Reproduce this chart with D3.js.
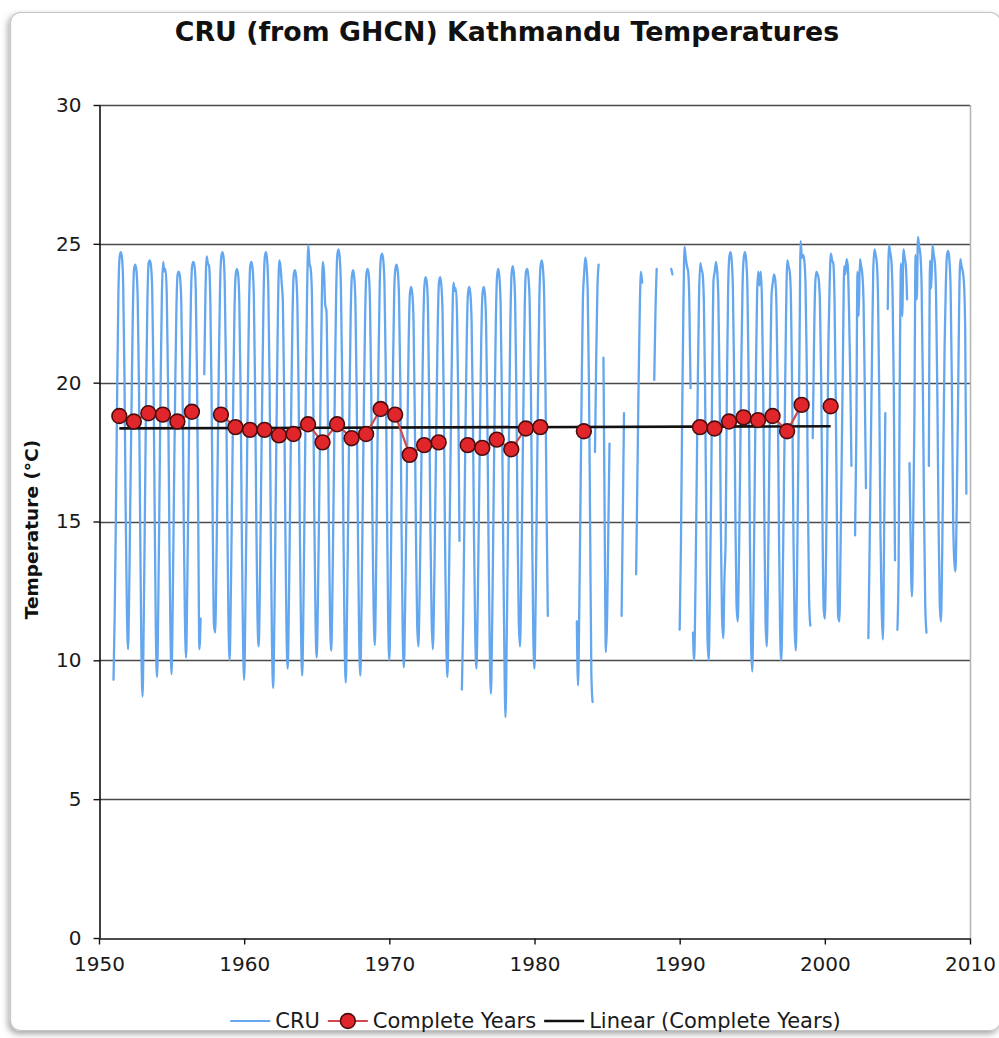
<!DOCTYPE html>
<html>
<head>
<meta charset="utf-8">
<script src="https://cdn.jsdelivr.net/npm/d3@7"></script>
<style>
  html, body { margin: 0; padding: 0; background: #ffffff; }
  svg { display: block; }
</style>
</head>
<body>
<svg id="chart" width="999" height="1038"></svg>
<script>
// ---- Data -------------------------------------------------------------
// CRU monthly mean temperature (°C), one row per year, Jan..Dec; null = missing month
const cruFirstYear = 1951;
const cruMonthly = [
  [9.3, 11.7, 15.3, 19.6, 23.1, 24.5, 24.7, 24.5, 23.5, 20.4, 15.6, 12.0],      // 1951
  [10.4, 12.6, 16.2, 19.5, 22.6, 24.1, 24.25, 24.0, 23.0, 20.0, 15.0, 10.5],    // 1952
  [8.7, 11.5, 15.6, 19.8, 22.9, 24.3, 24.4, 24.2, 23.3, 20.3, 15.5, 11.0],      // 1953
  [9.4, 12.0, 16.0, 20.2, 23.2, 24.35, 24.0, 24.1, 23.2, 20.2, 15.4, 11.2],     // 1954
  [9.5, 12.3, 16.2, 19.8, 22.7, 23.9, 24.0, 23.8, 22.9, 20.0, 15.3, 11.6],      // 1955
  [10.1, 12.8, 16.5, 20.3, 23.1, 24.2, 24.35, 24.2, 23.3, 20.3, 15.2, 10.4],    // 1956
  [11.5, null, null, 20.3, 23.2, 24.55, 24.3, 24.2, 23.0, 19.8, 15.0, 11.3],    // 1957
  [11.0, 13.2, 16.8, 20.4, 23.3, 24.5, 24.7, 24.5, 23.4, 20.3, 15.4, 11.5],     // 1958
  [10.0, 12.4, 16.0, 19.6, 22.6, 23.9, 24.1, 23.9, 22.9, 19.8, 14.9, 10.9],     // 1959
  [9.3, 11.9, 15.6, 19.6, 22.7, 24.2, 24.35, 24.1, 23.1, 19.9, 15.2, 11.6],     // 1960
  [10.5, 12.7, 16.3, 19.8, 23.0, 24.5, 24.7, 24.4, 23.3, 20.0, 14.8, 10.6],     // 1961
  [9.0, 11.6, 15.4, 19.4, 22.8, 24.4, 24.2, 23.6, 22.9, 19.8, 15.0, 11.1],      // 1962
  [9.7, 12.1, 15.8, 19.4, 22.5, 23.9, 24.05, 23.8, 22.8, 19.7, 14.9, 11.0],     // 1963
  [9.45, 12.0, 15.9, 19.8, 23.2, 24.95, 24.3, 24.1, 23.2, 20.0, 15.1, 11.4],    // 1964
  [10.1, 12.3, 15.6, 19.1, 22.4, 24.35, 24.0, 22.8, 22.6, 19.6, 14.9, 11.5],    // 1965
  [10.35, 12.6, 16.2, 19.9, 23.1, 24.6, 24.8, 24.5, 23.4, 20.2, 15.0, 10.8],    // 1966
  [9.2, 11.7, 15.3, 19.0, 22.3, 23.8, 24.05, 23.8, 22.8, 19.6, 14.9, 11.0],     // 1967
  [9.45, 11.9, 15.6, 19.3, 22.4, 23.9, 24.1, 23.9, 22.9, 19.8, 15.2, 11.9],     // 1968
  [10.55, 13.0, 16.9, 20.6, 23.4, 24.5, 24.65, 24.4, 23.5, 20.6, 15.8, 11.6],   // 1969
  [10.0, 12.5, 16.4, 20.4, 23.2, 24.1, 24.25, 24.0, 23.1, 20.2, 15.3, 11.2],    // 1970
  [9.75, 11.8, 15.0, 18.3, 21.5, 23.2, 23.45, 23.2, 22.2, 19.0, 14.6, 11.3],    // 1971
  [10.5, 12.3, 15.3, 18.8, 21.9, 23.5, 23.8, 23.6, 22.5, 19.2, 14.6, 11.4],     // 1972
  [10.4, 12.4, 15.6, 18.9, 22.0, 23.6, 23.8, 23.5, 22.5, 19.3, 14.5, 10.9],     // 1973
  [9.4, 11.8, 15.2, 18.8, 21.9, 23.6, 23.3, 23.4, 22.4, 19.3, 14.3, null],      // 1974
  [8.95, 11.4, 14.9, 18.5, 21.6, 23.2, 23.45, 23.2, 22.2, 19.1, 14.4, 11.0],    // 1975
  [9.7, 11.8, 15.1, 18.5, 21.6, 23.2, 23.45, 23.2, 22.1, 18.9, 14.2, 10.5],     // 1976
  [8.8, 11.3, 15.0, 18.8, 22.1, 23.8, 24.1, 23.8, 22.8, 19.6, 14.8, 10.6],      // 1977
  [7.95, 10.6, 14.4, 18.5, 22.0, 23.9, 24.2, 23.9, 22.9, 19.7, 14.9, 11.4],     // 1978
  [10.5, 12.7, 16.3, 19.8, 22.9, 24.0, 24.1, 23.8, 22.9, 19.9, 15.0, 10.9],     // 1979
  [9.7, 12.3, 16.1, 19.9, 23.0, 24.2, 24.4, 24.1, 23.1, 20.1, 15.4, 11.6],      // 1980
  [null, null, null, null, null, null, null, null, null, null, null, null],     // 1981
  [null, null, null, null, null, null, null, null, null, null, null, 11.4],     // 1982
  [9.1, 11.8, 15.7, 19.8, 23.0, 23.9, 24.5, 24.2, 23.2, 20.0, 14.8, 9.5],       // 1983
  [8.5, null, 17.5, 20.8, 23.4, 24.25, null, null, null, 20.9, 15.0, 10.3],     // 1984
  [11.5, 14.6, 17.8, null, null, null, null, null, null, null, null, null],     // 1985
  [11.6, 15.2, 18.9, null, null, null, null, null, null, null, null, null],     // 1986
  [13.1, 16.4, 19.8, 22.6, 24.0, 23.6, null, null, null, null, null, null],     // 1987
  [null, null, null, 20.1, 22.6, 24.1, null, null, null, null, null, null],     // 1988
  [null, null, null, null, null, 24.1, 23.9, null, null, null, null, null],     // 1989
  [11.1, 14.0, 18.5, 22.4, 24.9, 24.5, 24.2, 24.0, 22.9, 19.8, null, 11.0],     // 1990
  [10.0, 12.5, 16.2, 20.0, 23.1, 24.3, 24.1, 23.9, 22.9, 19.8, 14.9, 10.8],     // 1991
  [10.0, 12.4, 16.0, 20.6, 23.7, 24.0, 24.35, 24.0, 23.0, 19.9, 15.0, 11.6],    // 1992
  [10.8, 12.9, 14.4, 19.6, 23.2, 24.5, 24.7, 24.4, 23.4, 20.3, 15.5, 12.0],     // 1993
  [11.4, 13.6, 17.0, 20.8, 23.5, 24.5, 24.7, 24.4, 23.4, 20.2, 14.8, 10.6],     // 1994
  [9.6, 12.3, 16.2, 20.2, 23.2, 24.0, 23.5, 24.0, 23.0, 20.0, 15.2, 11.4],      // 1995
  [10.5, 13.0, 16.8, 20.6, 23.2, 23.6, 23.9, 23.7, 22.8, 19.9, 15.1, 11.1],     // 1996
  [10.0, 12.2, 15.6, 19.1, 22.6, 24.4, 24.2, 24.0, 23.0, 19.7, 14.8, 11.2],     // 1997
  [10.35, 13.0, 16.9, 21.0, 25.1, 24.5, 24.6, 24.4, 23.6, 20.8, 16.0, 12.2],    // 1998
  [11.25, null, 18.0, 21.2, 23.5, 24.0, 23.9, 23.7, 22.8, 20.0, 15.2, 11.9],    // 1999
  [11.5, 13.8, 17.6, 21.5, 23.6, 24.65, 24.4, 24.3, 23.0, 19.5, 15.0, 11.6],    // 2000
  [11.4, 14.0, 17.5, 21.0, 24.2, 23.9, 24.45, 24.2, 22.6, 20.2, 17.0, null],    // 2001
  [null, 14.5, 18.0, 24.0, 22.4, 24.45, 24.2, 23.9, 22.9, 19.8, 16.2, null],    // 2002
  [10.8, 14.0, 17.6, 21.0, 24.0, 24.8, 24.6, 24.3, 23.0, 19.5, 14.5, 11.8],     // 2003
  [10.75, 14.5, 18.9, null, 22.65, 24.95, 24.7, 24.4, 23.2, 19.8, 13.6, null],  // 2004
  [11.1, 13.5, 20.5, 24.3, 22.4, 24.8, 24.5, 24.2, 23.0, null, 17.1, 14.0],     // 2005
  [12.3, 14.8, 18.5, 24.6, 23.0, 25.25, 24.9, 24.6, 23.5, 20.0, 15.5, 12.0],    // 2006
  [11.0, null, 17.0, 24.4, 23.4, 24.95, 24.6, 24.3, 23.0, 19.6, 15.0, 12.0],    // 2007
  [11.4, 13.8, 17.6, 21.3, 23.5, 24.6, 24.75, 24.4, 23.3, 20.0, 15.3, 13.6],    // 2008
  [13.2, 15.5, 18.8, 22.7, 24.45, 24.2, 24.0, 23.6, 22.0, 16.0, null, null]     // 2009
];

// Annual means for years with all twelve months present
const completeYears = [1951, 1952, 1953, 1954, 1955, 1956, 1958, 1959, 1960, 1961,
  1962, 1963, 1964, 1965, 1966, 1967, 1968, 1969, 1970, 1971, 1972, 1973, 1975, 1976,
  1977, 1978, 1979, 1980, 1983, 1991, 1992, 1993, 1994, 1995, 1996, 1997, 1998, 2000];
const completeMeans = [18.8, 18.6, 18.9, 18.85, 18.6, 18.95, 18.85, 18.4, 18.3, 18.3,
  18.1, 18.15, 18.5, 17.85, 18.5, 18.0, 18.15, 19.05, 18.85, 17.4, 17.75, 17.85, 17.75, 17.65,
  17.95, 17.6, 18.35, 18.4, 18.25, 18.4, 18.35, 18.6, 18.75, 18.65, 18.8, 18.25, 19.2, 19.15];

const xTicks = [1950, 1960, 1970, 1980, 1990, 2000, 2010];
const yTicks = [0, 5, 10, 15, 20, 25, 30];

const titleText = "CRU (from GHCN) Kathmandu Temperatures";
const yTitleText = "Temperature (°C)";
const legendLabels = ["CRU", "Complete Years", "Linear (Complete Years)"];

// ---- Styling ----------------------------------------------------------
const FONT = "'DejaVu Sans', Verdana, sans-serif";
const BLUE = "#64a7ee";
const RED = "#e1262b";
const RED_LINE = "#d4484b";
const RED_EDGE = "#4a0d0d";

const svg = d3.select("#chart");
const W = 999, H = 1038;

// soft drop shadow for the chart frame
const defs = svg.append("defs");
const shadow = defs.append("filter").attr("id", "frameShadow")
  .attr("x", "-5%").attr("y", "-5%").attr("width", "110%").attr("height", "110%");
shadow.append("feDropShadow").attr("dx", -2).attr("dy", 3).attr("stdDeviation", 3)
  .attr("flood-color", "#000").attr("flood-opacity", 0.35);

svg.append("rect").attr("x", 0).attr("y", 0).attr("width", W).attr("height", H).attr("fill", "#ffffff");
svg.append("rect")
  .attr("x", 10.5).attr("y", 12.5).attr("width", 990).attr("height", 1018)
  .attr("rx", 10).attr("ry", 10)
  .attr("fill", "#ffffff").attr("stroke", "#c4c4c4").attr("stroke-width", 1.2)
  .attr("filter", "url(#frameShadow)");

// ---- Scales -----------------------------------------------------------
const plot = { left: 99, right: 970, top: 105, bottom: 938 };
const x = d3.scaleLinear().domain([1950, 2010]).range([plot.left, plot.right]);
const y = d3.scaleLinear().domain([0, 30]).range([plot.bottom, plot.top]);

// ---- Title ------------------------------------------------------------
svg.append("text")
  .attr("x", 507).attr("y", 41)
  .attr("text-anchor", "middle")
  .attr("font-family", FONT).attr("font-weight", "bold").attr("font-size", 26.8)
  .attr("fill", "#111")
  .text(titleText);

// ---- Gridlines & plot border -------------------------------------------
svg.append("g").selectAll("line")
  .data(yTicks.filter(t => t > 0))
  .join("line")
  .attr("x1", plot.left).attr("x2", plot.right)
  .attr("y1", d => Math.round(y(d)) + 0.5).attr("y2", d => Math.round(y(d)) + 0.5)
  .attr("stroke", "#4a4a4a").attr("stroke-width", 1.5);

svg.append("line")
  .attr("x1", plot.right + 0.5).attr("x2", plot.right + 0.5)
  .attr("y1", plot.top).attr("y2", plot.bottom)
  .attr("stroke", "#b3b3b3").attr("stroke-width", 1.5);

// ---- CRU monthly line --------------------------------------------------
const cruPoints = [];
cruMonthly.forEach((row, i) => {
  row.forEach((v, m) => {
    cruPoints.push({ t: cruFirstYear + i + m / 12, v: v });
  });
});
const cruLine = d3.line()
  .defined(d => d.v !== null)
  .curve(d3.curveMonotoneX)
  .x(d => x(d.t))
  .y(d => y(d.v));
svg.append("path")
  .datum(cruPoints)
  .attr("d", cruLine)
  .attr("fill", "none")
  .attr("stroke", BLUE).attr("stroke-width", 2.3)
  .attr("stroke-linejoin", "round").attr("stroke-linecap", "round");

// ---- Linear trend through the complete-year means ----------------------
const DOT_OFFSET = 0.4;
const trendX = completeYears.map(yr => yr + DOT_OFFSET);
const mx = d3.mean(trendX), my = d3.mean(completeMeans);
const sxy = d3.sum(trendX, (t, i) => (t - mx) * (completeMeans[i] - my));
const sxx = d3.sum(trendX, t => (t - mx) * (t - mx));
const slope = sxy / sxx;
const intercept = my - slope * mx;
const trendEnds = d3.extent(trendX).map(t => ({ t: t, v: intercept + slope * t }));
svg.append("path")
  .datum(trendEnds)
  .attr("d", d3.line().x(d => x(d.t)).y(d => y(d.v)))
  .attr("stroke", "#111").attr("stroke-width", 2.6).attr("fill", "none");

// ---- Complete-year means: line broken at missing years, plus markers ---
const yearSpan = d3.range(completeYears[0], completeYears[completeYears.length - 1] + 1);
const meanSeries = yearSpan.map(yr => {
  const k = completeYears.indexOf(yr);
  return { t: yr + DOT_OFFSET, v: k >= 0 ? completeMeans[k] : null };
});
svg.append("path")
  .datum(meanSeries)
  .attr("d", d3.line().defined(d => d.v !== null).x(d => x(d.t)).y(d => y(d.v)))
  .attr("fill", "none").attr("stroke", RED_LINE).attr("stroke-width", 2.2);

svg.append("g").selectAll("circle")
  .data(meanSeries.filter(d => d.v !== null))
  .join("circle")
  .attr("cx", d => x(d.t)).attr("cy", d => y(d.v)).attr("r", 7.4)
  .attr("fill", RED).attr("stroke", RED_EDGE).attr("stroke-width", 1.6);

// ---- Axes -------------------------------------------------------------
const yAxis = svg.append("g")
  .attr("transform", `translate(${plot.left + 0.5},0)`)
  .call(d3.axisLeft(y).tickValues(yTicks).tickSize(6).tickSizeOuter(0).tickPadding(12));
const xAxis = svg.append("g")
  .attr("transform", `translate(0,${plot.bottom + 0.5})`)
  .call(d3.axisBottom(x).tickValues(xTicks).tickFormat(d3.format("d"))
    .tickSize(6).tickSizeOuter(0).tickPadding(12));

[yAxis, xAxis].forEach(g => {
  g.select(".domain").attr("stroke", "#111").attr("stroke-width", 1.6);
  g.selectAll(".tick line").attr("stroke", "#111").attr("stroke-width", 1.4);
  g.selectAll(".tick text")
    .attr("font-family", FONT).attr("font-size", 20).attr("fill", "#1a1a1a");
});
xAxis.selectAll(".tick text").attr("dy", "0.71em");

// axis title
svg.append("text")
  .attr("transform", `translate(38,${(plot.top + plot.bottom) / 2 + 8}) rotate(-90)`)
  .attr("text-anchor", "middle")
  .attr("font-family", FONT).attr("font-weight", "bold").attr("font-size", 18.5)
  .attr("fill", "#111")
  .text(yTitleText);

// ---- Legend -----------------------------------------------------------
const legendY = 1021;
const legendFont = 21;
const legend = svg.append("g");
const symW = 40, symGap = 5, itemGap = 8;
const legendItems = legendLabels.map((label, i) => ({ label, kind: i }));

// measure labels to lay the legend out centred under the plot
const measure = legend.append("text")
  .attr("font-family", FONT).attr("font-size", legendFont).attr("visibility", "hidden");
legendItems.forEach(it => {
  measure.text(it.label);
  it.w = measure.node().getComputedTextLength();
});
measure.remove();
const totalW = d3.sum(legendItems, it => symW + symGap + it.w) + itemGap * (legendItems.length - 1);
let cursor = 535.5 - totalW / 2;

legendItems.forEach(it => {
  const g = legend.append("g").attr("transform", `translate(${cursor},${legendY})`);
  const colour = it.kind === 0 ? BLUE : it.kind === 1 ? RED_LINE : "#111";
  g.append("line").attr("x1", 0).attr("x2", symW).attr("y1", 0).attr("y2", 0)
    .attr("stroke", colour).attr("stroke-width", it.kind === 2 ? 2.6 : 2.2);
  if (it.kind === 1) {
    g.append("circle").attr("cx", symW / 2).attr("cy", 0).attr("r", 7.4)
      .attr("fill", RED).attr("stroke", RED_EDGE).attr("stroke-width", 1.6);
  }
  g.append("text")
    .attr("x", symW + symGap).attr("y", 0).attr("dy", "0.35em")
    .attr("font-family", FONT).attr("font-size", legendFont).attr("fill", "#1a1a1a")
    .text(it.label);
  cursor += symW + symGap + it.w + itemGap;
});
</script>
</body>
</html>
